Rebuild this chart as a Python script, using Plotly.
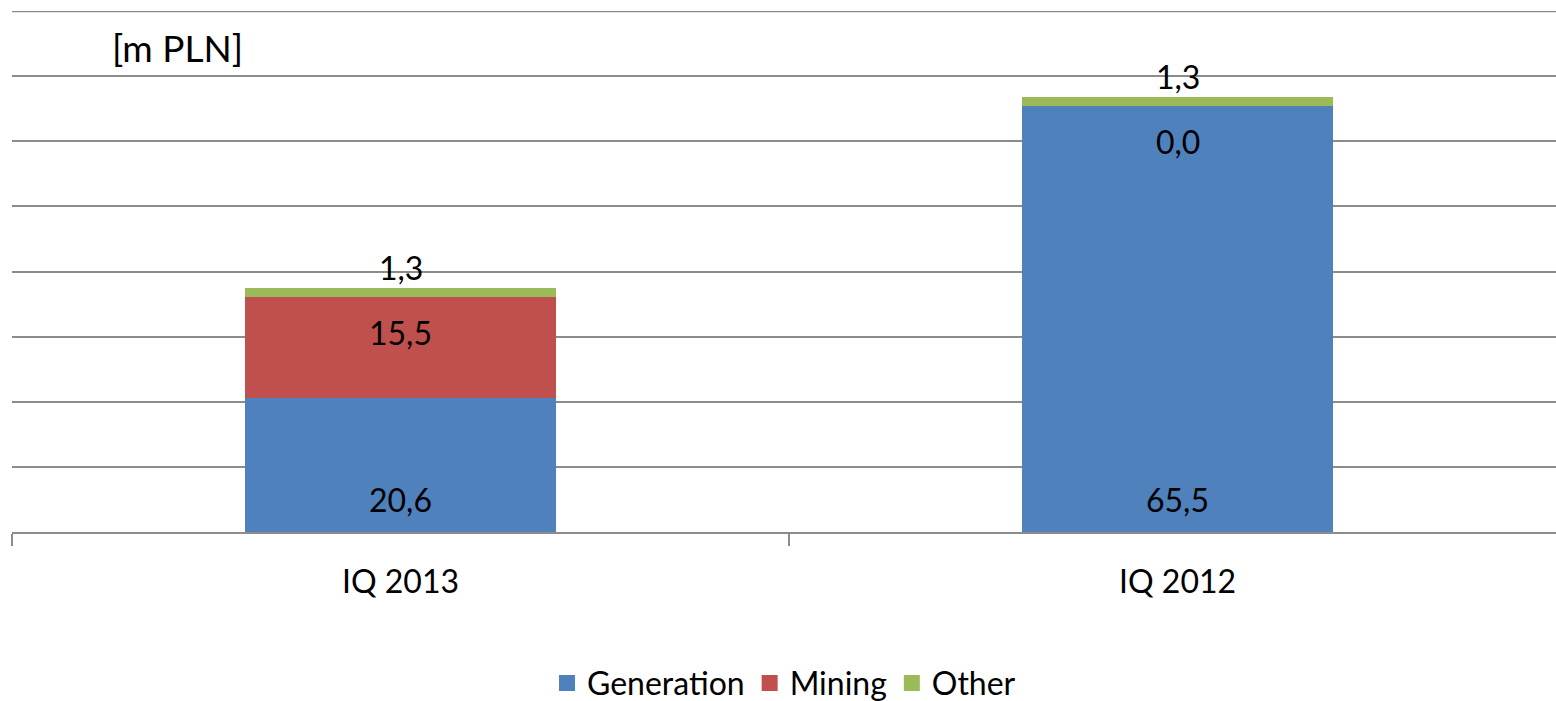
import plotly.graph_objects as go

categories = ["IQ 2013", "IQ 2012"]
generation = [20.6, 65.5]
mining = [15.5, 0.0]
other = [1.3, 1.3]
series_names = ["Generation", "Mining", "Other"]
colors = ["#4F81BD", "#C0504D", "#9BBB59"]
unit_label = "[m PLN]"
y_max = 80
y_step = 10

FONT = "Lato"
FS = 32
GRID = "#8C8C8C"


def fmt(v):
    return f"{v:.1f}".replace(".", ",")


fig = go.Figure()
for name, vals, col in zip(series_names, [generation, mining, other], colors):
    fig.add_trace(go.Bar(x=categories, y=vals, name=name, marker=dict(color=col, line=dict(width=0)),
                         showlegend=False, hoverinfo="skip"))
    # legend proxy with larger square
    fig.add_trace(go.Scatter(x=[None], y=[None], mode="markers", name=name,
                             marker=dict(symbol="square", size=18, color=col)))

annotations = []
for i, cat in enumerate(categories):
    g, m, o = generation[i], mining[i], other[i]
    annotations.append(dict(x=cat, y=0, text=fmt(g), showarrow=False, yshift=33,
                            yanchor="middle", font=dict(family=FONT, size=FS, color="black")))
    annotations.append(dict(x=cat, y=g + m, text=fmt(m), showarrow=False, yshift=-36,
                            yanchor="middle", font=dict(family=FONT, size=FS, color="black")))
    annotations.append(dict(x=cat, y=g + m + o, text=fmt(o), showarrow=False, yshift=21,
                            yanchor="middle", font=dict(family=FONT, size=FS, color="black")))

annotations.append(dict(xref="paper", yref="paper", x=0.0635, y=0.929, xanchor="left", yanchor="middle",
                        text=unit_label, showarrow=False, font=dict(family=FONT, size=37, color="black")))

fig.add_shape(type="line", xref="paper", yref="y", x0=0, x1=1, y0=y_max, y1=y_max,
              line=dict(color=GRID, width=2), layer="below")

fig.update_layout(
    width=1556, height=701,
    margin=dict(l=12, r=0, t=11, b=169, pad=0, autoexpand=False),
    barmode="stack", bargap=0.6,
    plot_bgcolor="white", paper_bgcolor="white",
    font=dict(family=FONT, size=FS, color="black"),
    annotations=annotations,
    legend=dict(orientation="h", x=0.5, xanchor="center", y=-0.29, yanchor="middle",
                traceorder="normal",
                font=dict(family=FONT, size=FS, color="black"), itemwidth=30, tracegroupgap=0),
    xaxis=dict(type="category", range=[-0.5, 1.487], tickson="boundaries", ticks="outside", ticklen=12,
               tickwidth=2, tickcolor=GRID, showline=True, linecolor=GRID, linewidth=2,
               ticklabelstandoff=21, automargin=False,
               showgrid=False, tickfont=dict(family=FONT, size=FS, color="black"), fixedrange=True),
    yaxis=dict(range=[0, y_max + 0.02], dtick=y_step, showticklabels=False, showgrid=True, gridcolor=GRID,
               gridwidth=2, zeroline=False, showline=False, fixedrange=True, automargin=False),
)

fig.write_html("out.html")
